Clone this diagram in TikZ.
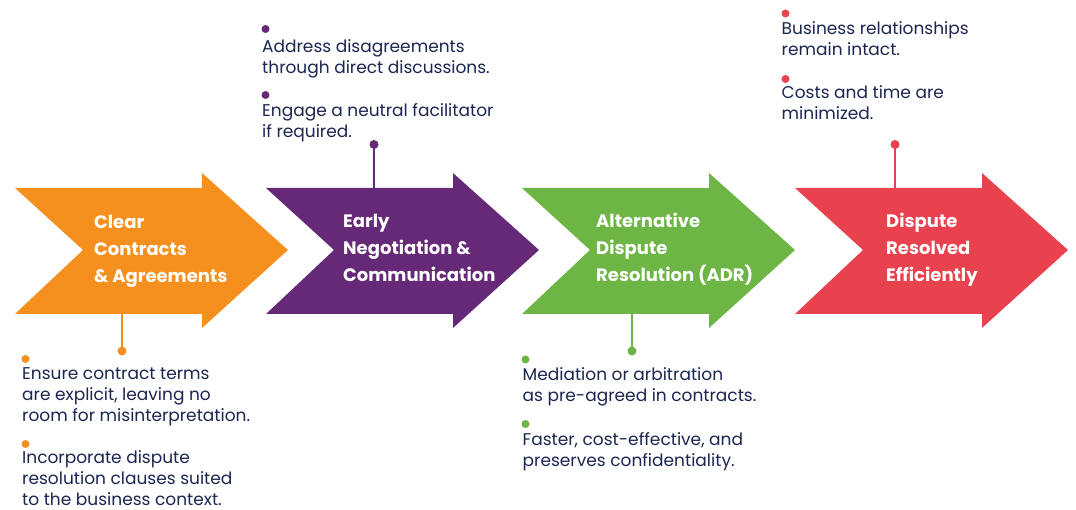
\documentclass[tikz,border=0pt]{standalone}
\usepackage{fontspec}
\setmainfont{Poppins}
\begin{document}
\begin{tikzpicture}[x=1pt,y=-1pt,
  ttl/.style={anchor=base west,inner sep=0pt,align=left,text=white,
    font=\bfseries\fontsize{18}{27}\selectfont},
  body/.style={anchor=base west,inner sep=0pt,align=left,text=ink,
    font=\fontsize{17}{21}\selectfont},
  dot/.style={circle,inner sep=0pt,minimum size=8pt},
  knob/.style={circle,inner sep=0pt,minimum size=9pt},
  link/.style={line width=2.2pt}]
\definecolor{cOr}{HTML}{F5901F}
\definecolor{cPu}{HTML}{652978}
\definecolor{cGr}{HTML}{6DB646}
\definecolor{cRe}{HTML}{E8424F}
\definecolor{ink}{HTML}{1B2550}
\useasboundingbox (0,0) rectangle (1076,510);
% chevron arrow with notched tail, left edge at #1
\newcommand\chev[2]{%
  \fill[#2] (#1,188) -- ++(187,0) -- ++(0,-15) -- (#1+273,250)
    -- (#1+187,328) -- ++(0,-14) -- (#1,314) -- (#1+68,250) -- cycle;}
\chev{15}{cOr}
\chev{266}{cPu}
\chev{522}{cGr}
\chev{795}{cRe}
% step titles (placed by the baseline of their last line)
\node[ttl] (t1) at (94,283) {Clear\\Contracts\\\& Agreements};
\node[ttl] (t2) at (343,282) {Early\\Negotiation \&\\Communication};
\node[ttl] (t3) at (596,282) {Alternative\\Dispute\\Resolution (ADR)};
\node[ttl] (t4) at (886,282) {Dispute\\Resolved\\Efficiently};
% connectors from the arrows to their notes
\coordinate (a1) at (122,314);
\coordinate (a2) at (374,188);
\coordinate (a3) at (632,314);
\coordinate (a4) at (895,188);
\node[knob,fill=cOr] (k1) at (122,351) {};
\node[knob,fill=cPu] (k2) at (374,144.5) {};
\node[knob,fill=cGr] (k3) at (632,351) {};
\node[knob,fill=cRe] (k4) at (895,144.5) {};
\draw[link,cOr] (a1) -- (k1.center);
\draw[link,cPu] (a2) -- (k2.center);
\draw[link,cGr] (a3) -- (k3.center);
\draw[link,cRe] (a4) -- (k4.center);
% notes: bullets and texts (placed by the baseline of their last line)
\node[dot,fill=cOr] (b11) at (25.5,359) {};
\node[body] (n11) at (22,421.5) {Ensure contract terms\\are explicit, leaving no\\room for misinterpretation.};
\node[dot,fill=cOr] (b12) at (25.5,444) {};
\node[body] (n12) at (22,505.5) {Incorporate dispute\\resolution clauses suited\\to the business context.};
\node[dot,fill=cPu] (b21) at (265.5,29) {};
\node[body] (n21) at (262,73.5) {Address disagreements\\through direct discussions.};
\node[dot,fill=cPu] (b22) at (265.5,95) {};
\node[body] (n22) at (262,137.5) {Engage a neutral facilitator\\if required.};
\node[dot,fill=cGr] (b31) at (525.5,359.5) {};
\node[body] (n31) at (522.5,402) {Mediation or arbitration\\as pre-agreed in contracts.};
\node[dot,fill=cGr] (b32) at (525.5,424) {};
\node[body] (n32) at (522.5,466) {Faster, cost-effective, and\\preserves confidentiality.};
\node[dot,fill=cRe] (b41) at (785.5,13.5) {};
\node[body] (n41) at (781.5,55.5) {Business relationships\\remain intact.};
\node[dot,fill=cRe] (b42) at (785.5,79) {};
\node[body] (n42) at (781.5,119.5) {Costs and time are\\minimized.};
\end{tikzpicture}
\end{document}
